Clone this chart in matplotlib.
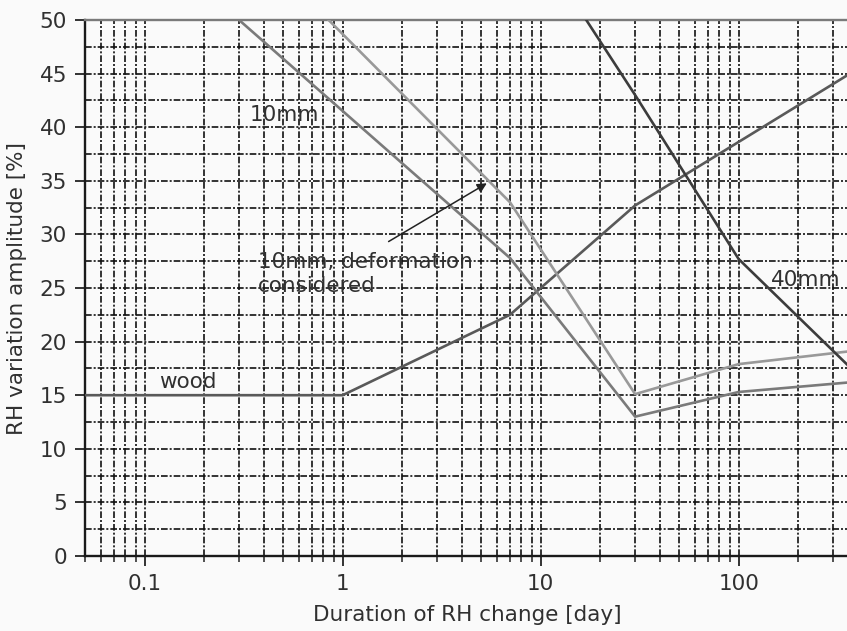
import matplotlib
matplotlib.use("Agg")
import matplotlib.pyplot as plt
from matplotlib.ticker import MultipleLocator, FixedLocator, FixedFormatter, LogLocator, NullFormatter

# duration of RH change [day] and amplitude [%] for each curve
wood_days = [0.05, 1, 7, 30, 365]
wood_amp = [15, 15, 22.5, 32.7, 45]

mm10_days = [0.3, 7, 30, 100, 365]
mm10_amp = [50, 27.8, 13.0, 15.3, 16.2]

mm10_def_days = [0.85, 7, 30, 100, 365]
mm10_def_amp = [50, 33.0, 15.1, 17.9, 19.1]

mm40_days = [17, 30, 100, 365]
mm40_amp = [50, 43.0, 27.7, 17.6]

xtick_vals = [0.1, 1, 10, 100]
xtick_labels = ["0.1", "1", "10", "100"]

plt.rcParams['font.family'] = ['DejaVu Sans']
txt_col = '#303030'
fs = 15.5

fig = plt.figure(figsize=(8.47, 6.31), dpi=100, facecolor='#fafafa')
ax = fig.add_axes([85/847, 1-556/631, 765/847, 536/631])
ax.set_facecolor('#fafafa')

ax.plot(wood_days, wood_amp, color='#595959', lw=1.9, zorder=3)
ax.plot(mm10_days, mm10_amp, color='#7a7a7a', lw=1.9, zorder=3)
ax.plot(mm10_def_days, mm10_def_amp, color='#999999', lw=1.9, zorder=3)
ax.plot(mm40_days, mm40_amp, color='#3c3c3c', lw=1.9, zorder=3)

ax.set_xscale('log')
ax.set_xlim(0.05, 365)
ax.set_ylim(0, 50)

ax.xaxis.set_major_locator(FixedLocator(xtick_vals))
ax.xaxis.set_major_formatter(FixedFormatter(xtick_labels))
ax.xaxis.set_minor_locator(LogLocator(base=10, subs=range(2, 10), numticks=20))
ax.xaxis.set_minor_formatter(NullFormatter())
ax.yaxis.set_major_locator(MultipleLocator(5))
ax.yaxis.set_minor_locator(MultipleLocator(2.5))

# dense dash-dot grid on both axes
gstyle = dict(color='#111111', lw=1.2, linestyle=(0, (4, 1.2, 1.2, 1.2)))
ax.grid(True, which='both', axis='x', **gstyle)
ax.grid(True, which='both', axis='y', **gstyle)
ax.set_axisbelow(True)

ax.tick_params(axis='both', which='major', direction='out', length=7, width=1.3,
               labelsize=fs, labelcolor=txt_col, color='#222222', pad=6)
ax.tick_params(axis='x', which='minor', direction='out', length=4, width=1.1, color='#222222')
ax.tick_params(axis='y', which='minor', length=0)

for s in ['left', 'bottom']:
    ax.spines[s].set_color('#1a1a1a')
    ax.spines[s].set_linewidth(1.7)
ax.spines['top'].set_color('#7a7a7a')
ax.spines['top'].set_linewidth(1.7)
ax.spines['right'].set_visible(False)

ax.set_xlabel('Duration of RH change [day]', fontsize=fs, color=txt_col, labelpad=8)
ax.set_ylabel('RH variation amplitude [%]', fontsize=fs, color=txt_col, labelpad=9)

ax.text(0.339, 41.1, '10mm', fontsize=fs, color=txt_col, ha='left', va='center')
ax.text(145, 25.7, '40mm', fontsize=fs, color=txt_col, ha='left', va='center')
ax.text(0.119, 16.2, 'wood', fontsize=fs, color=txt_col, ha='left', va='center')
ax.text(0.372, 26.3, '10mm, deformation\nconsidered', fontsize=fs, color=txt_col,
        ha='left', va='center', linespacing=1.3)

ax.annotate('', xy=(5.5, 34.9), xytext=(1.66, 29.2),
            arrowprops=dict(arrowstyle='-|>', color='#222222', lw=1.1, mutation_scale=14))

fig.savefig('out.png', dpi=100, facecolor=fig.get_facecolor())
